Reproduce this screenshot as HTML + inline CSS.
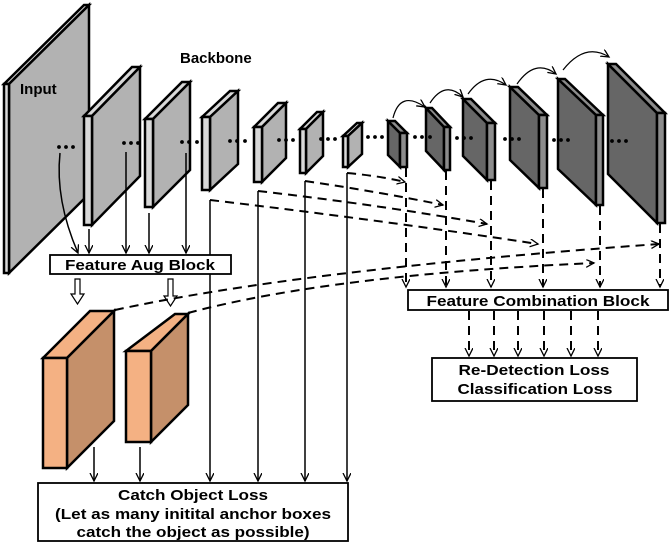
<!DOCTYPE html>
<html><head><meta charset="utf-8"><style>
html,body{margin:0;padding:0;background:#fff;}
svg{display:block;}
text{font-family:"Liberation Sans",Arial,sans-serif;font-weight:bold;fill:#000;}
</style></head><body>
<svg width="671" height="546" viewBox="0 0 671 546" xmlns="http://www.w3.org/2000/svg">
<defs>
<marker id="a" markerWidth="10" markerHeight="10" refX="8" refY="4" orient="auto" markerUnits="userSpaceOnUse">
<path d="M0,0 L8,4 L0,8" fill="none" stroke="#000" stroke-width="1.3"/></marker>
</defs>
<g stroke="#000" stroke-width="2.5" stroke-linejoin="miter">
<polygon points="4,84 84,5 89,5 9,84" fill="#d9d9d9"/><polygon points="9,84 89,5 89,194 9,273" fill="#b2b2b2"/><rect x="4" y="84" width="5" height="189" fill="#d9d9d9"/>
<polygon points="84,116 132,67 140,67 92,116" fill="#d9d9d9"/><polygon points="92,116 140,67 140,176 92,225" fill="#b2b2b2"/><rect x="84" y="116" width="8" height="109" fill="#d9d9d9"/>
<polygon points="145,119 182,82 190,82 153,119" fill="#d9d9d9"/><polygon points="153,119 190,82 190,170 153,207" fill="#b2b2b2"/><rect x="145" y="119" width="8" height="88" fill="#d9d9d9"/>
<polygon points="202,117 230,91 238,91 210,117" fill="#d9d9d9"/><polygon points="210,117 238,91 238,164 210,190" fill="#b2b2b2"/><rect x="202" y="117" width="8" height="73" fill="#d9d9d9"/>
<polygon points="254,127 278,103 286,103 262,127" fill="#d9d9d9"/><polygon points="262,127 286,103 286,158 262,182" fill="#b2b2b2"/><rect x="254" y="127" width="8" height="55" fill="#d9d9d9"/>
<polygon points="300,129 317,112 323,112 306,129" fill="#d9d9d9"/><polygon points="306,129 323,112 323,156 306,173" fill="#b2b2b2"/><rect x="300" y="129" width="6" height="44" fill="#d9d9d9"/>
<polygon points="343,136 357,123 362,123 348,136" fill="#d9d9d9"/><polygon points="348,136 362,123 362,154 348,167" fill="#b2b2b2"/><rect x="343" y="136" width="5" height="31" fill="#d9d9d9"/>
<polygon points="388,121 400,133 400,167 388,155" fill="#666"/><polygon points="388,121 395,121 407,133 400,133" fill="#8c8c8c"/><rect x="400" y="133" width="7" height="34" fill="#8c8c8c"/>
<polygon points="426,108 444,127 444,170 426,151" fill="#666"/><polygon points="426,108 432,108 450,127 444,127" fill="#8c8c8c"/><rect x="444" y="127" width="6" height="43" fill="#8c8c8c"/>
<polygon points="463,99 487,123 487,180 463,156" fill="#666"/><polygon points="463,99 471,99 495,123 487,123" fill="#8c8c8c"/><rect x="487" y="123" width="8" height="57" fill="#8c8c8c"/>
<polygon points="510,87 539,115 539,188 510,160" fill="#666"/><polygon points="510,87 518,87 547,115 539,115" fill="#8c8c8c"/><rect x="539" y="115" width="8" height="73" fill="#8c8c8c"/>
<polygon points="558,79 596,115 596,205 558,169" fill="#666"/><polygon points="558,79 565,79 603,115 596,115" fill="#8c8c8c"/><rect x="596" y="115" width="7" height="90" fill="#8c8c8c"/>
<polygon points="608,64 657,113 657,223 608,174" fill="#666"/><polygon points="608,64 616,64 665,113 657,113" fill="#8c8c8c"/><rect x="657" y="113" width="8" height="110" fill="#8c8c8c"/>
<polygon points="43,358 90,311 114,311 67,358" fill="#f4b183"/><polygon points="67,358 114,311 114,421 67,468" fill="#c5906a"/><rect x="43" y="358" width="24" height="110" fill="#f4b183"/>
<polygon points="126,351 175,314 188,314 151,351" fill="#f4b183"/><polygon points="151,351 188,314 188,405 151,442" fill="#c5906a"/><rect x="126" y="351" width="25" height="91" fill="#f4b183"/>
</g>
<g fill="#000">
<circle cx="59" cy="147" r="1.9"/><circle cx="66" cy="147" r="1.9"/><circle cx="73" cy="147" r="1.9"/>
<circle cx="124" cy="143" r="1.9"/><circle cx="131" cy="143" r="1.9"/><circle cx="138" cy="143" r="1.9"/>
<circle cx="182" cy="142" r="1.9"/><circle cx="189" cy="142" r="1.9"/><circle cx="197" cy="142" r="1.9"/>
<circle cx="230" cy="141" r="1.9"/><circle cx="237" cy="141" r="1.9"/><circle cx="245" cy="141" r="1.9"/>
<circle cx="279" cy="140" r="1.9"/><circle cx="286" cy="140" r="1.9"/><circle cx="293" cy="140" r="1.9"/>
<circle cx="321" cy="139" r="1.9"/><circle cx="328" cy="139" r="1.9"/><circle cx="335" cy="139" r="1.9"/>
<circle cx="368" cy="137" r="1.9"/><circle cx="375" cy="137" r="1.9"/><circle cx="382" cy="137" r="1.9"/>
<circle cx="415" cy="137" r="1.9"/><circle cx="422" cy="137" r="1.9"/><circle cx="430" cy="137" r="1.9"/>
<circle cx="457" cy="138" r="1.9"/><circle cx="464" cy="138" r="1.9"/><circle cx="471" cy="138" r="1.9"/>
<circle cx="505" cy="139" r="1.9"/><circle cx="512" cy="139" r="1.9"/><circle cx="519" cy="139" r="1.9"/>
<circle cx="554" cy="140" r="1.9"/><circle cx="561" cy="140" r="1.9"/><circle cx="568" cy="140" r="1.9"/>
<circle cx="612" cy="141" r="1.9"/><circle cx="619" cy="141" r="1.9"/><circle cx="626" cy="141" r="1.9"/>
</g>
<g fill="none" stroke="#000" stroke-width="1.2" marker-end="url(#a)">
<path d="M393,118 Q400,90 425,107"/>
<path d="M430,103 Q445,80 463,97"/>
<path d="M468,94 Q485,70 506,85"/>
<path d="M517,84 Q535,58 556,74"/>
<path d="M563,70 Q585,42 609,57"/>
</g>
<g fill="none" stroke="#000" stroke-width="1.5" marker-end="url(#a)">
<path d="M60,153 Q55,200 78,253"/>
<path d="M89,229 L89,253"/>
<path d="M126,152 L126,253"/>
<path d="M149,213 L149,253"/>
<path d="M186,153 L186,253"/>
<path d="M94,447 L94,481"/>
<path d="M140,447 L140,481"/>
<path d="M210,200 L210,481"/>
<path d="M258,191 L258,481"/>
<path d="M305,181 L305,481"/>
<path d="M347,173 L347,481"/>
</g>
<g fill="#fff" stroke="#000" stroke-width="1.2">
<path d="M75,279 L80,279 L80,294 L84,294 L77.5,304 L71,294 L75,294 Z"/>
<path d="M168,279 L173,279 L173,296 L177,296 L170.5,306 L164,296 L168,296 Z"/>
</g>
<g fill="none" stroke="#000" stroke-width="2" stroke-dasharray="9,6" marker-end="url(#a)">
<path d="M210,200 Q380,220 538,244"/>
<path d="M258,191 Q380,205 487,224"/>
<path d="M305,181 Q380,192 443,205"/>
<path d="M347,173 Q380,176 405,182"/>
<path d="M115,310 Q300,270 659,244"/>
<path d="M188,313 Q330,275 594,263"/>
<path d="M406,168 L406,287"/>
<path d="M446,171 L446,287"/>
<path d="M491,181 L491,287"/>
<path d="M543,189 L543,287"/>
<path d="M600,206 L600,287"/>
<path d="M660,224 L660,287"/>
<path d="M469,311 L469,356"/>
<path d="M494,311 L494,356"/>
<path d="M518,311 L518,356"/>
<path d="M544,311 L544,356"/>
<path d="M571,311 L571,356"/>
<path d="M598,311 L598,356"/>
</g>
<g fill="#fff" stroke="#000" stroke-width="1.8">
<rect x="50" y="255" width="181" height="19"/>
<rect x="408" y="290" width="260" height="20"/>
<rect x="432" y="358" width="205" height="43"/>
<rect x="38" y="483" width="310" height="58"/>
</g>
<text x="20" y="94" font-size="15">Input</text>
<text x="180" y="63" font-size="15">Backbone</text>
<text x="140" y="270" font-size="15" text-anchor="middle" textLength="150" lengthAdjust="spacingAndGlyphs">Feature Aug Block</text>
<text x="538" y="306" font-size="15" text-anchor="middle" textLength="223" lengthAdjust="spacingAndGlyphs">Feature Combination Block</text>
<text x="534" y="375" font-size="15" text-anchor="middle" textLength="151" lengthAdjust="spacingAndGlyphs">Re-Detection Loss</text>
<text x="535" y="394" font-size="15" text-anchor="middle" textLength="155" lengthAdjust="spacingAndGlyphs">Classification Loss</text>
<text x="193" y="500" font-size="15" text-anchor="middle" textLength="150" lengthAdjust="spacingAndGlyphs">Catch Object Loss</text>
<text x="193" y="519" font-size="15" text-anchor="middle" textLength="276" lengthAdjust="spacingAndGlyphs">(Let as many initital anchor boxes</text>
<text x="193" y="537" font-size="15" text-anchor="middle" textLength="233" lengthAdjust="spacingAndGlyphs">catch the object as possible)</text>
</svg>
</body></html>
